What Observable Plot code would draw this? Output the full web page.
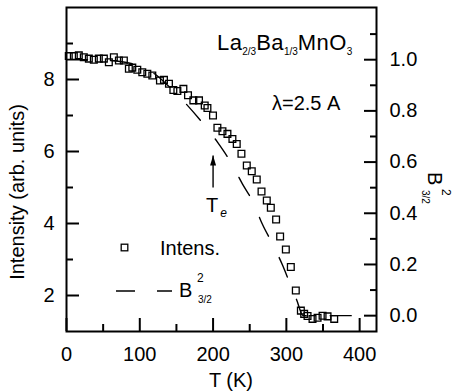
<!DOCTYPE html>
<html>
<head>
<meta charset="utf-8">
<script src="https://cdn.jsdelivr.net/npm/d3@7"></script>
<script src="https://cdn.jsdelivr.net/npm/@observablehq/plot@0.6"></script>
<style>
html,body{margin:0;padding:0;background:#fff;}
#chart svg{display:block;}
</style>
</head>
<body>
<div id="chart"></div>
<script>
// ---- data ----
const temperatureK = [3.1,10.0,16.8,23.6,30.5,37.3,44.1,51.0,57.8,64.6,71.5,78.3,85.1,89.8,96.6,103.4,110.3,117.1,127.5,133.0,139.8,145.8,151.3,159.5,165.8,173.1,180.8,188.6,192.3,199.9,205.9,212.8,219.6,226.4,232.3,238.7,246.0,252.8,259.6,266.1,273.3,278.8,286.0,291.5,299.3,306.1,312.9,319.8,324.3,328.9,335.7,342.6,349.4,356.2,365.3];
const intensity = [8.65,8.65,8.67,8.62,8.58,8.55,8.58,8.58,8.48,8.62,8.53,8.53,8.30,8.33,8.27,8.20,8.16,8.11,7.97,7.99,7.88,7.71,7.68,7.74,7.56,7.42,7.42,7.28,7.21,7.00,6.66,6.56,6.49,6.35,6.21,5.94,5.61,5.45,5.22,4.89,4.64,4.44,4.11,3.64,3.28,2.79,2.14,1.58,1.49,1.43,1.35,1.38,1.44,1.42,1.35];

const brillouinT  = [0, 40, 80, 100, 120, 140, 161, 183, 206, 224, 240, 255, 267, 281, 295, 305, 314, 323, 410];
const brillouinB2 = [1.0, 1.0, 0.99, 0.975, 0.945, 0.895, 0.834, 0.762, 0.678, 0.600, 0.515, 0.441, 0.359, 0.281, 0.196, 0.125, 0.062, 0.0, 0.0];

// right axis B^2 = 0 and 1 correspond to these intensities
const intensityAtB0 = 1.44;
const intensityAtB1 = 8.55;

const xTicks = [0, 100, 200, 300, 400];
const xMinorTicks = [50, 150, 250, 350];
const leftTicks = [2, 4, 6, 8];
const leftMinorTicks = [3, 5, 7, 9];
const rightTicks = [0, 0.2, 0.4, 0.6, 0.8, 1.0];
const rightMinorTicks = [0.1, 0.3, 0.5, 0.7, 0.9, 1.1];

const teArrow = [{T: 200, tail: 5.0, head: 5.89}];

// ---- derived tables ----
const toI = b => intensityAtB0 + b * (intensityAtB1 - intensityAtB0);
const fromI = v => (v - intensityAtB0) / (intensityAtB1 - intensityAtB0);
const points = temperatureK.map((T, i) => ({T, I: intensity[i]}));
const curve = brillouinT.map((T, i) => ({T, I: toI(brillouinB2[i])}));

const FONT = "'Liberation Sans', Arial, Helvetica, sans-serif";
const W = 452, H = 392, ML = 66, MR = 76, MT = 7, MB = 61;
const PW = W - ML - MR, PH = H - MT - MB;

const arrowHead = {draw(ctx) { ctx.moveTo(0, 0); ctx.lineTo(3, 10); ctx.lineTo(-3, 10); ctx.closePath(); }};

const chart = Plot.plot({
  width: W, height: H,
  marginLeft: ML, marginRight: MR, marginTop: MT, marginBottom: MB,
  style: {fontFamily: FONT, fontSize: "20px", color: "black", background: "white"},
  x: {domain: [0, 423]},
  y: {domain: [1, 10]},
  marks: [
    Plot.line(curve, {x: "T", y: "I", stroke: "black", strokeWidth: 1.4, strokeDasharray: "21,24", curve: "monotone-x"}),
    Plot.dot(points, {x: "T", y: "I", symbol: "square", r: 3.8, stroke: "black", strokeWidth: 1.3, fill: "none"}),
    Plot.link(teArrow, {x1: "T", x2: "T", y1: "tail", y2: "head", stroke: "black", strokeWidth: 1.4}),
    Plot.dot(teArrow, {x: "T", y: "head", symbol: arrowHead, fill: "black", stroke: "none", r: 3}),
    // ticks (inward)
    Plot.ruleX(xTicks, {stroke: "black", strokeWidth: 2, insetTop: PH - 13}),
    Plot.ruleX(xMinorTicks, {stroke: "black", strokeWidth: 2, insetTop: PH - 7}),
    Plot.ruleY(leftTicks, {stroke: "black", strokeWidth: 2, insetRight: PW - 13}),
    Plot.ruleY(leftMinorTicks, {stroke: "black", strokeWidth: 2, insetRight: PW - 7}),
    Plot.ruleY(rightTicks.map(toI), {stroke: "black", strokeWidth: 2, insetLeft: PW - 12}),
    Plot.ruleY(rightMinorTicks.map(toI), {stroke: "black", strokeWidth: 2, insetLeft: PW - 6}),
    // tick labels
    Plot.axisX({ticks: xTicks, tickSize: 0, tickPadding: 15, label: null, fontSize: 20}),
    Plot.axisY({anchor: "left", ticks: leftTicks, tickSize: 0, tickPadding: 12, label: null, fontSize: 20}),
    Plot.axisY({anchor: "right", ticks: rightTicks.map(toI), tickFormat: d => Math.abs(fromI(d)).toFixed(1), tickSize: 0, tickPadding: 13, label: null, fontSize: 20}),
    Plot.frame({stroke: "black", strokeWidth: 2})
  ]
});
document.getElementById("chart").appendChild(chart);

// ---- annotations, axis titles and legend ----
const svg = d3.select(chart);
const ann = svg.append("g").attr("fill", "black").style("font-family", FONT)
  .attr("font-size", 20).attr("text-anchor", "start");

// axis titles
ann.append("text").attr("x", 231).attr("y", 387).attr("text-anchor", "middle").text("T (K)");
ann.append("text").attr("transform", "translate(24,192) rotate(-90)").attr("text-anchor", "middle").text("Intensity (arb. units)");

// right axis title B^2_{3/2}, rotated clockwise
const rt = ann.append("g").attr("transform", "translate(428,172) rotate(90)");
rt.append("text").attr("x", 0).attr("y", 0).text("B");
rt.append("text").attr("x", 17).attr("y", -14).attr("font-size", 12).text("2");
rt.append("text").attr("x", 18).attr("y", 6).attr("font-size", 10).text("3/2");

// formula
const f = ann.append("text").attr("x", 217).attr("y", 50).attr("font-size", 22);
f.append("tspan").attr("letter-spacing", 0.4).text("La");
f.append("tspan").attr("font-size", 10).attr("dy", 5).text("2/3");
f.append("tspan").attr("letter-spacing", 0.4).attr("dy", -5).text("Ba");
f.append("tspan").attr("font-size", 10).attr("dy", 5).text("1/3");
f.append("tspan").attr("letter-spacing", 0.4).attr("dy", -5).text("MnO");
f.append("tspan").attr("font-size", 10).attr("dy", 5).text("3");

ann.append("text").attr("x", 272).attr("y", 110).text("\u03bb=2.5 A");

// T_e label under arrow
const te = ann.append("text").attr("x", 206).attr("y", 212);
te.append("tspan").text("T");
te.append("tspan").attr("font-size", 12).attr("font-style", "italic").attr("dx", 2).attr("dy", 5).text("e");

// legend
ann.append("rect").attr("x", 121.2).attr("y", 244.2).attr("width", 6.6).attr("height", 6.6)
  .attr("fill", "none").attr("stroke", "black").attr("stroke-width", 1.3);
ann.append("text").attr("x", 160).attr("y", 255).text("Intens.");
ann.append("line").attr("x1", 116).attr("x2", 172).attr("y1", 291).attr("y2", 291)
  .attr("stroke", "black").attr("stroke-width", 1.4).attr("stroke-dasharray", "19,22");
ann.append("text").attr("x", 179).attr("y", 297).text("B");
ann.append("text").attr("x", 197).attr("y", 282).attr("font-size", 12).text("2");
ann.append("text").attr("x", 198).attr("y", 303).attr("font-size", 10).text("3/2");
</script>
</body>
</html>
